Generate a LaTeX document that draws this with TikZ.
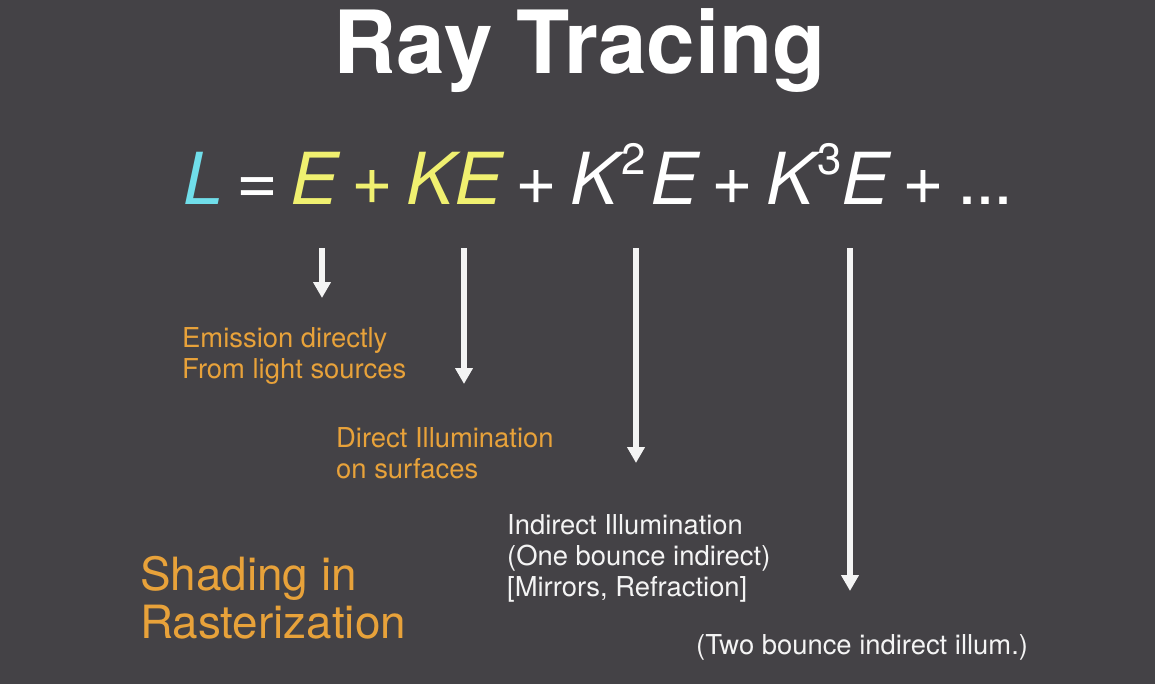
\documentclass[tikz,border=0pt]{standalone}
\usepackage{fontspec}
\setmainfont{TeX Gyre Heros}
\usetikzlibrary{arrows.meta, positioning}
\definecolor{slide}{RGB}{68,66,70}
\definecolor{rtorange}{RGB}{232,162,58}
\definecolor{rtyellow}{RGB}{240,240,112}
\definecolor{rtcyan}{RGB}{112,222,234}
\definecolor{rtwhite}{RGB}{244,244,244}
\tikzset{
  rttitle/.style = {text=white, font=\fontsize{87.5}{87.5}\selectfont\bfseries,
    inner sep=0pt, anchor=base},
  rteq/.style = {text=white, font=\fontsize{72}{72}\selectfont,
    inner sep=0pt, anchor=base west},
  rtlbl/.style = {text=rtorange, font=\fontsize{27.5}{31}\selectfont,
    align=left, inner sep=0pt, anchor=base west},
  rtlblw/.style = {rtlbl, text=rtwhite},
  rtbig/.style = {rtlbl, font=\fontsize{46}{48}\selectfont},
  rtseta/.style = {-{Triangle[width=17bp,length=16bp]}, line width=6bp,
    draw=rtwhite}
}
\newcommand{\rtI}[1]{{\itshape #1}}
\newcommand{\rtS}[2]{\hspace{3bp}\raisebox{30bp}{\fontsize{44}{44}\selectfont #1}\hspace{#2}}
\newcommand{\rtG}{\hspace{13bp}}

\begin{document}
\begin{tikzpicture}[x=1bp, y=-1bp]
  \fill [slide] (0,0) rectangle (1155,684);
  \useasboundingbox (0,0) rectangle (1155,684);
  \node [rttitle] (title) at (580,74) {Ray Tracing};
  \node [rteq] (eq) at (183,205) {\textcolor{rtcyan}{\rtI{L}}\rtG=\rtG
    \textcolor{rtyellow}{\rtI{E}\rtG+\rtG\rtI{KE}}\rtG+\rtG
    \rtI{K}\rtS{2}{5bp}\rtI{E}\rtG+\rtG\rtI{K}\rtS{3}{0bp}\rtI{E}\rtG+\rtG
    .\hspace{-2bp}.\hspace{-2bp}.};
  % arrows below the terms
  \coordinate (s1) at (322,248);
  \coordinate (t1) at (322,298);
  \coordinate (s2) at (464,248);
  \coordinate (t2) at (464,384);
  \coordinate (s3) at (636,248);
  \coordinate (t3) at (636,463);
  \coordinate (s4) at (850,248);
  \coordinate (t4) at (850,591);
  \draw [rtseta] (s1) -- (t1);
  \draw [rtseta] (s2) -- (t2);
  \draw [rtseta] (s3) -- (t3);
  \draw [rtseta] (s4) -- (t4);
  \node [rtlbl] (emis) at (182,378) {Emission directly\\From light sources};
  \node [rtlbl] (dir) at (336,478) {Direct Illumination\\on surfaces};
  \node [rtlblw] (ind) at (507,596) {Indirect Illumination\\(One bounce indirect)\\{[Mirrors, Refraction]}};
  \node [rtlblw] (two) at (696,654) {(Two bounce indirect illum.)};
  \node [rtbig] (shade) at (140,638) {Shading in\\Rasterization};
\end{tikzpicture}
\end{document}
